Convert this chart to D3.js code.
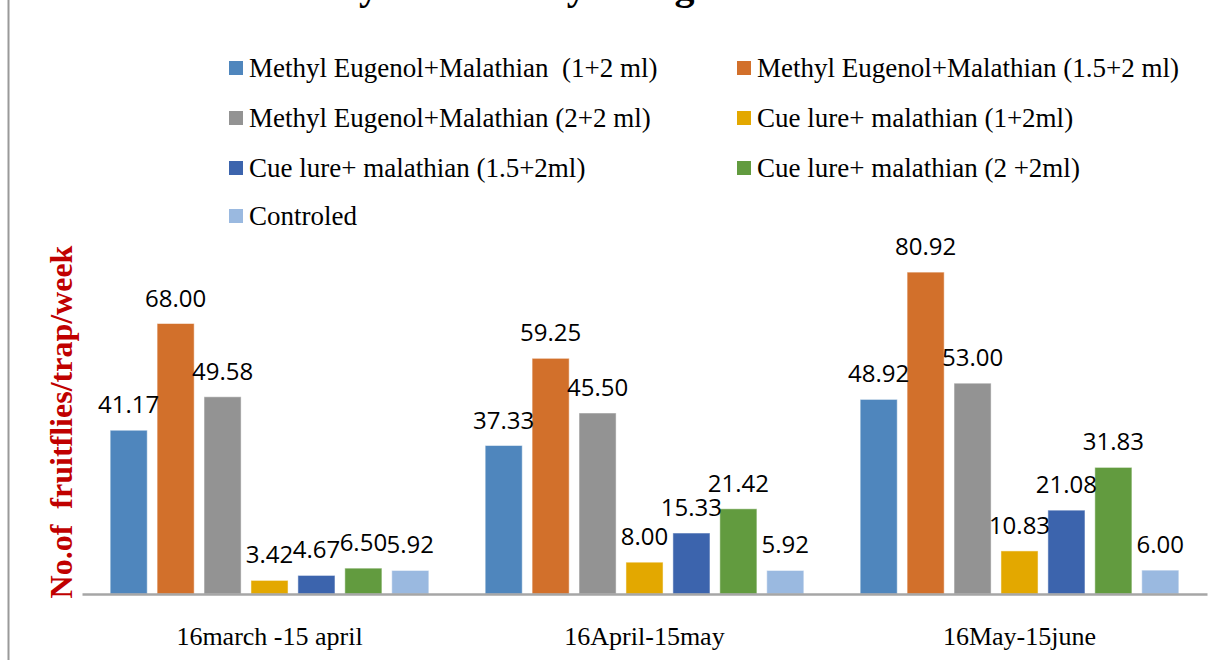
<!DOCTYPE html>
<html><head><meta charset="utf-8">
<script src="https://cdn.jsdelivr.net/npm/d3@7/dist/d3.min.js"></script>
<style>html,body{margin:0;padding:0;background:#fff;overflow:hidden} text{white-space:pre}</style>
</head><body>
<svg id="chart" width="1229" height="660"></svg>
<script>
const categories = ["16march -15 april", "16April-15may", "16May-15june"];
const seriesNames = [
  "Methyl Eugenol+Malathian  (1+2 ml)",
  "Methyl Eugenol+Malathian (1.5+2 ml)",
  "Methyl Eugenol+Malathian (2+2 ml)",
  "Cue lure+ malathian (1+2ml)",
  "Cue lure+ malathian (1.5+2ml)",
  "Cue lure+ malathian (2 +2ml)",
  "Controled"
];
const meMal1 = [41.17, 37.33, 48.92];
const meMal15 = [68.00, 59.25, 80.92];
const meMal2 = [49.58, 45.50, 53.00];
const cueMal1 = [3.42, 8.00, 10.83];
const cueMal15 = [4.67, 15.33, 21.08];
const cueMal2 = [6.50, 21.42, 31.83];
const controled = [5.92, 5.92, 6.00];
const seriesValues = [meMal1, meMal15, meMal2, cueMal1, cueMal15, cueMal2, controled];
const colors = ["#4f86bd", "#d2702b", "#939393", "#e3a800", "#3c64ad", "#629b3f", "#9ab9e0"];
const yAxisTitle = "No.of  fruitflies/trap/week";
const chartTitle = "Seasonal Activity of Fruit Fly Using Lures";

const svg = d3.select("#chart");

svg.append("line").attr("x1", 8.5).attr("x2", 8.5).attr("y1", 0).attr("y2", 660)
  .attr("stroke", "#9a9a9a").attr("stroke-width", 2);

const title = svg.append("text").attr("x", 0).attr("y", -1)
  .attr("font-family", "Liberation Serif").attr("font-weight", "bold")
  .attr("font-size", 40).attr("fill", "#000").text(chartTitle);
const yi = chartTitle.indexOf("y");
const p = title.node().getStartPositionOfChar(yi);
title.attr("x", 367 - p.x - 8);

const y = d3.scaleLinear().domain([0, 90]).range([594, 236]);
const x0 = d3.scaleBand().domain(categories).range([82, 1207]).padding(0);
const x1 = d3.scaleBand().domain(d3.range(seriesNames.length))
  .range([0, x0.bandwidth()]).paddingInner(0.21).paddingOuter(0.6);

const g = svg.append("g");
seriesValues.forEach((vals, si) => {
  g.selectAll(null).data(vals).enter().append("rect")
    .attr("x", (d, ci) => x0(categories[ci]) + x1(si))
    .attr("width", x1.bandwidth())
    .attr("y", d => y(d))
    .attr("height", d => y(0) - y(d))
    .attr("fill", colors[si])
    .attr("stroke", "#fff").attr("stroke-opacity", 0.5).attr("stroke-width", 1);
});
seriesValues.forEach((vals, si) => {
  g.selectAll(null).data(vals).enter().append("text")
    .attr("x", (d, ci) => x0(categories[ci]) + x1(si) + x1.bandwidth() / 2)
    .attr("y", d => y(d) - 17)
    .attr("text-anchor", "middle")
    .attr("font-family", "Open Sans").attr("font-size", 24).attr("fill", "#000")
    .text(d => d.toFixed(2));
});

const xAxis = d3.axisBottom(x0).tickSize(0).tickPadding(0);
const ax = svg.append("g").attr("transform", `translate(0,${y(0)})`).call(xAxis);
ax.select(".domain").attr("stroke", "#a6a6a6").attr("stroke-width", 2.5);
ax.selectAll(".tick text").attr("dy", 0).attr("y", 51)
  .attr("font-family", "Liberation Serif").attr("font-size", 26).attr("fill", "#000");

svg.append("text").attr("transform", "translate(72,422) rotate(-90)")
  .attr("text-anchor", "middle").attr("font-family", "Liberation Serif")
  .attr("font-weight", "bold").attr("font-size", 32).attr("fill", "#c00000")
  .text(yAxisTitle);

const legX = [229, 737];
const legY = [68, 118, 168, 216];
seriesNames.forEach((name, i) => {
  const lx = legX[i % 2], ly = legY[Math.floor(i / 2)];
  svg.append("rect").attr("x", lx).attr("y", ly - 7).attr("width", 14).attr("height", 14)
    .attr("fill", colors[i]);
  svg.append("text").attr("x", lx + 20).attr("y", ly + 9)
    .attr("font-family", "Liberation Serif").attr("font-size", 27).attr("fill", "#000")
    .text(name);
});
</script>
</body></html>
